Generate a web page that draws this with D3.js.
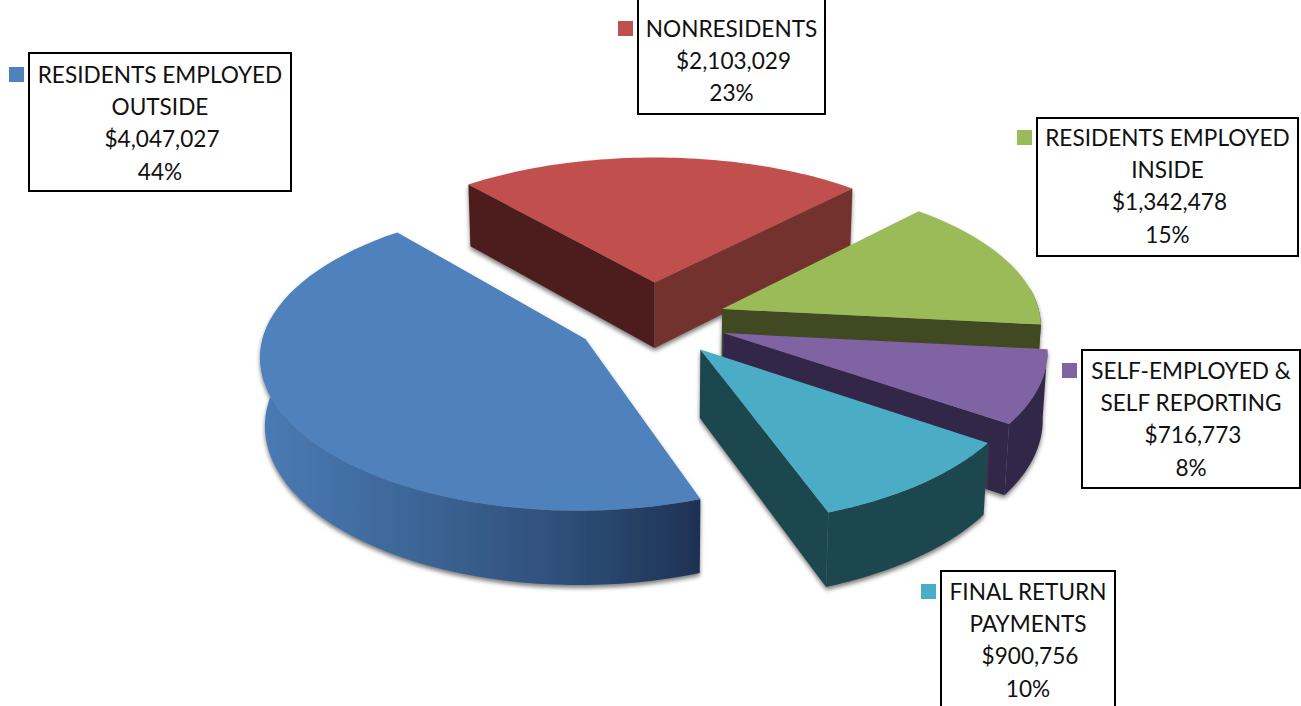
<!DOCTYPE html>
<html>
<head>
<meta charset="utf-8">
<script src="https://cdn.jsdelivr.net/npm/d3@7/dist/d3.min.js"></script>
<style>
  html, body { margin: 0; padding: 0; background: #fff; overflow: hidden; }
  text { font-family: Lato, "Open Sans", sans-serif; fill: #111; }
</style>
</head>
<body>
<svg id="chart" width="1301" height="706"></svg>
<script>
// Withholding revenue by source
const categoryLines = [
  ["RESIDENTS EMPLOYED", "OUTSIDE"],
  ["NONRESIDENTS"],
  ["RESIDENTS EMPLOYED", "INSIDE"],
  ["SELF-EMPLOYED &", "SELF REPORTING"],
  ["FINAL RETURN", "PAYMENTS"]
];
const amounts = [4047027, 2103029, 1342478, 716773, 900756];

// Appearance of each wedge
const topColors   = ["#4f81bd", "#c0504d", "#9bbb59", "#8064a2", "#4bacc6"];
const startWalls  = ["#2f4f78", "#4e1f1d", "#3f4a20", "#33264a", "#1f4650"];
const endWalls    = ["#2f4f78", "#73302e", "#3f4a20", "#33264a", "#1f4650"];
const outerWalls  = ["url(#blueWall)", "#73302e", "#3f4a20", "#33264a", "#1f4650"];
const explode     = [0.24, 0.27, 0.235, 0.235, 0.24];
const paintOrder  = [1, 2, 3, 4, 0];

// Label boxes: [left, top, right, bottom, first baseline]
const boxes = [
  [29, 53, 291, 191, 83],
  [638, -6, 825, 114, 37],
  [1037, 118, 1298, 256, 146],
  [1082, 350, 1300, 488, 379],
  [941, 571, 1115, 712, 600]
];
const lineStep = 32.2;
const swatchSize = 15;

const svg = d3.select("#chart");
const total = d3.sum(amounts);
const money = d3.format("$,");
const pct = d3.format(".0%");

// Perspective view of the pie's plane
const cx = 652.5, cy = 321, depth = 68;
const xPlane = d3.scaleLinear().domain([-1, 1]).range([-319, 319]);
const yPlane = d3.scaleLinear().domain([-1, 1]).range([-147.5, 147.5]);
const project = (X, Y, down) => {
  const sx = 1 / (1 - 0.10 * Y + 0.012 * down);
  const sy = 1 / (1 - 0.115 * Y + 0.012 * down);
  return [cx + xPlane(X) * sx, cy + (yPlane(Y) + depth * down) * sy];
};

const startDeg = 160;
const arcs = d3.pie().sort(null)
  .startAngle(startDeg * Math.PI / 180)
  .endAngle((startDeg + 360) * Math.PI / 180)(amounts);

const line = d3.line();
const closed = pts => line(pts) + "Z";
// Screen-space turn of a wall's first corner, used to tell which side faces the viewer
const turn = ([a, b, c]) => (b[0] - a[0]) * (c[1] - b[1]) - (b[1] - a[1]) * (c[0] - b[0]);

const defs = svg.append("defs");
const grad = defs.append("linearGradient").attr("id", "blueWall")
  .attr("gradientUnits", "userSpaceOnUse").attr("x1", 258).attr("x2", 696).attr("y1", 0).attr("y2", 0);
grad.append("stop").attr("offset", "0%").attr("stop-color", "#4a7bb5");
grad.append("stop").attr("offset", "35%").attr("stop-color", "#3d6698");
grad.append("stop").attr("offset", "70%").attr("stop-color", "#2e4f78");
grad.append("stop").attr("offset", "100%").attr("stop-color", "#1f3355");
const shadow = defs.append("filter").attr("id", "softShadow")
  .attr("x", "-10%").attr("y", "-10%").attr("width", "120%").attr("height", "125%");
shadow.append("feDropShadow").attr("dx", 0).attr("dy", 3).attr("stdDeviation", 2.2)
  .attr("flood-color", "#555").attr("flood-opacity", 0.75);

// One wedge: the walls facing the viewer, then the top face over them
paintOrder.forEach(i => {
  const a = arcs[i];
  const mid = (a.startAngle + a.endAngle) / 2;
  const ox = explode[i] * Math.sin(mid), oy = -explode[i] * Math.cos(mid);
  const at = (theta, r, down) =>
    project(ox + r * Math.sin(theta), oy - r * Math.cos(theta), down);
  const thetas = d3.range(0, 61).map(k => a.startAngle + (a.endAngle - a.startAngle) * k / 60);

  const g = svg.append("g").attr("filter", "url(#softShadow)");
  const wall = theta => [at(theta, 0, 0), at(theta, 1, 0), at(theta, 1, 1), at(theta, 0, 1)];

  if (turn(wall(a.startAngle)) < 0)
    g.append("path").attr("fill", startWalls[i]).attr("d", closed(wall(a.startAngle)));
  if (turn(wall(a.endAngle)) > 0)
    g.append("path").attr("fill", endWalls[i]).attr("d", closed(wall(a.endAngle)));

  const front = thetas.filter(t => Math.cos(t) < 0.15);
  if (front.length > 1) {
    const rimTop = front.map(t => at(t, 1, 0));
    const rimBottom = front.map(t => at(t, 1, 1));
    g.append("path").attr("fill", outerWalls[i])
      .attr("d", closed(rimTop.concat(rimBottom.slice().reverse())));
  }
  g.append("path").attr("fill", topColors[i])
    .attr("d", closed([at(0, 0, 0)].concat(thetas.map(t => at(t, 1, 0)))));
});

// Callout boxes with their colour keys
amounts.forEach((v, i) => {
  const [l, t, r, b, base] = boxes[i];
  svg.append("rect").attr("x", l).attr("y", t).attr("width", r - l).attr("height", b - t)
    .attr("fill", "#fff").attr("stroke", "#000").attr("stroke-width", 2);
  svg.append("rect").attr("x", l - 20).attr("y", base - 16)
    .attr("width", swatchSize).attr("height", swatchSize).attr("fill", topColors[i]);
  const lines = categoryLines[i].concat([money(v), pct(v / total)]);
  const moneyLine = lines.length - 2;
  svg.append("g").selectAll("text").data(lines).join("text")
    .attr("x", (d, k) => (l + r) / 2 + (k === moneyLine ? 2 : 0))
    .attr("y", (d, k) => base + k * lineStep)
    .attr("text-anchor", "middle").attr("font-size", 22.6).text(d => d);
});
</script>
</body>
</html>
